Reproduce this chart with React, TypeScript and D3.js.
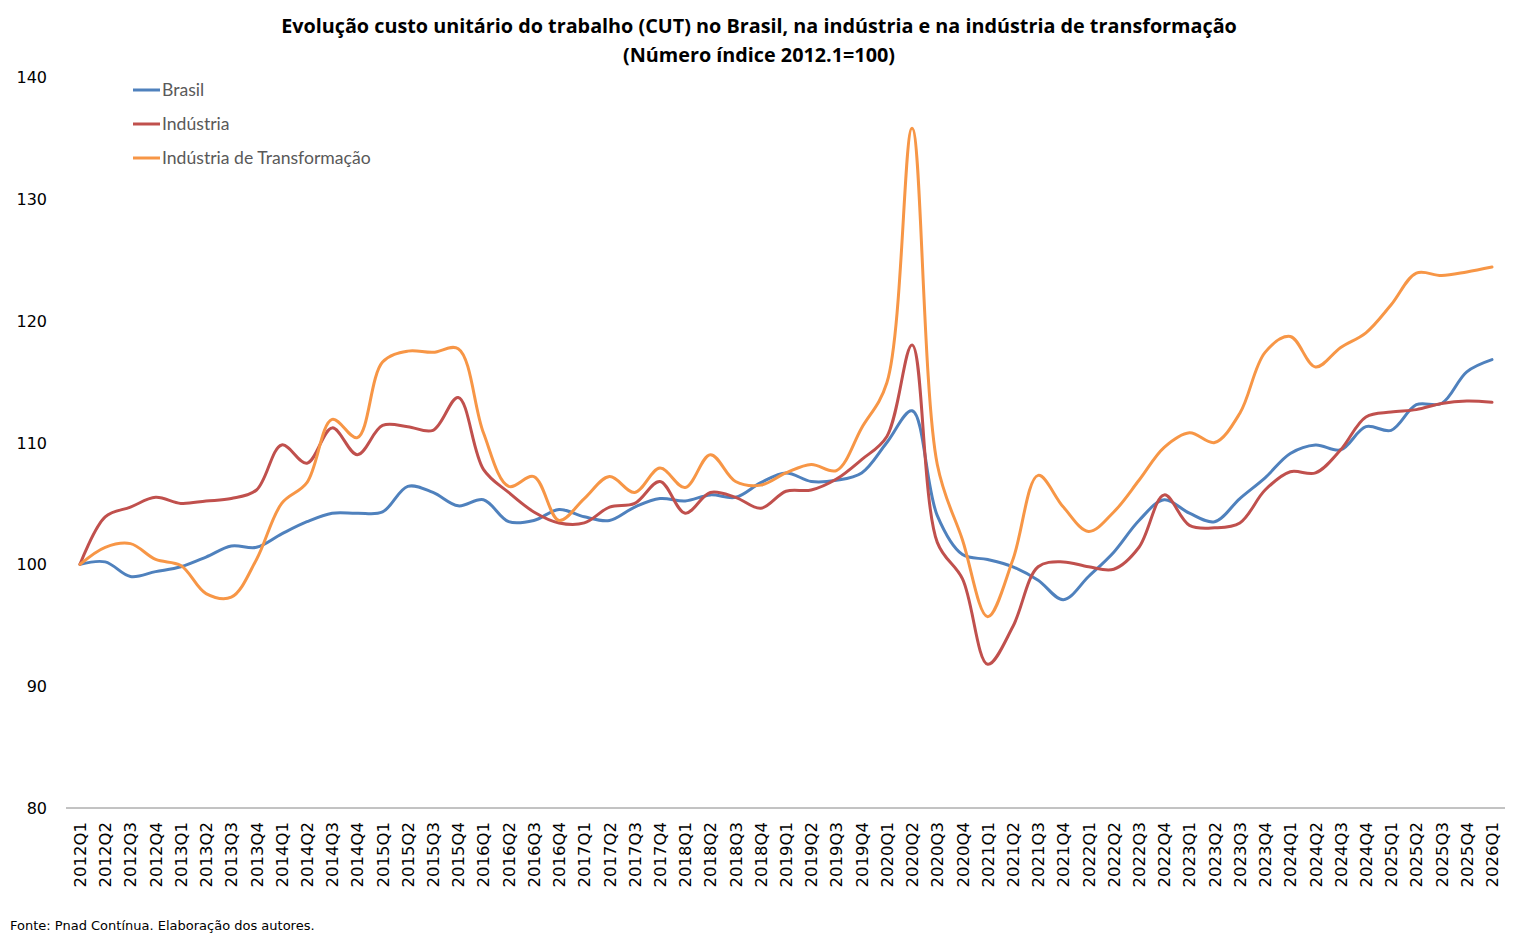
import React from "react";
import * as d3 from "d3";

// dimensões da imagem
const WIDTH = 1519;
const HEIGHT = 947;

const years = d3.range(2012, 2026);
const quarters: string[] = years
  .flatMap((y) => [1, 2, 3, 4].map((q) => `${y}Q${q}`))
  .concat(["2026Q1"]);

const yTicks = [80, 90, 100, 110, 120, 130, 140];

const brasil = [
  100, 100.2, 99.0, 99.4, 99.8, 100.6, 101.5, 101.4, 102.5, 103.5, 104.2, 104.2,
  104.3, 106.4, 105.9, 104.8, 105.3, 103.5, 103.6, 104.5, 103.9, 103.6, 104.7,
  105.4, 105.2, 105.7, 105.5, 106.7, 107.5, 106.8, 106.9, 107.5, 110.0, 112.6,
  104.0, 100.8, 100.4, 99.8, 98.7, 97.1, 99.0, 101.0, 103.6, 105.3, 104.2, 103.5,
  105.4, 107.1, 109.1, 109.8, 109.4, 111.3, 111.0, 113.1, 113.2, 115.8, 116.8,
];

const industria = [
  100, 103.9, 104.7, 105.5, 105.0, 105.2, 105.4, 106.1, 109.8, 108.3, 111.2,
  109.0, 111.4, 111.3, 111.0, 113.7, 107.8, 105.9, 104.3, 103.4, 103.4, 104.7,
  105.0, 106.8, 104.2, 105.9, 105.5, 104.6, 106.0, 106.1, 107.0, 108.6, 110.5,
  118.0, 101.8, 98.8, 91.8, 94.9, 99.8, 100.2, 99.8, 99.6, 101.4, 105.7, 103.2,
  103.0, 103.4, 106.1, 107.6, 107.5, 109.4, 112.1, 112.5, 112.7, 113.2, 113.4,
  113.3,
];

const transformacao = [
  100, 101.4, 101.7, 100.4, 99.9, 97.6, 97.3, 100.4, 105.0, 106.7, 111.9, 110.4,
  116.6, 117.5, 117.4, 117.7, 110.8, 106.4, 107.2, 103.6, 105.4, 107.2, 105.9,
  107.9, 106.3, 109.0, 106.8, 106.5, 107.5, 108.2, 107.7, 111.2, 114.9, 135.8,
  108.2, 102.0, 95.7, 100.4, 107.3, 104.7, 102.7, 104.3, 106.9, 109.6, 110.8,
  110.0, 112.4, 117.4, 118.7, 116.2, 117.8, 119.0, 121.3, 123.9, 123.7, 124.0,
  124.4,
];

const seriesNames = ["Brasil", "Indústria", "Indústria de Transformação"];
const seriesColors = ["#4F81BD", "#C0504D", "#F79646"];

const App: React.FC = () => {
  const x = d3.scalePoint<string>().domain(quarters).range([80, 1492]);
  const y = d3.scaleLinear().domain([80, 140]).range([808, 77]);

  const line = d3
    .line<number>()
    .x((_, i) => x(quarters[i]) as number)
    .y((d) => y(d))
    .curve(d3.curveCatmullRom.alpha(0.5));

  const allSeries = [brasil, industria, transformacao];

  return (
    <div style={{ position: "absolute", left: 0, top: 0 }}>
      <svg width={WIDTH} height={HEIGHT} style={{ background: "#fff", display: "block" }}>
        {/* título */}
        <text
          x={759}
          y={33}
          textAnchor="middle"
          fontFamily="'Open Sans', Lato, sans-serif"
          fontWeight="bold"
          fontSize={19.8}
          fill="#000"
        >
          Evolução custo unitário do trabalho (CUT) no Brasil, na indústria e na indústria de transformação
        </text>
        <text
          x={759}
          y={62}
          textAnchor="middle"
          fontFamily="'Open Sans', Lato, sans-serif"
          fontWeight="bold"
          fontSize={19.8}
          fill="#000"
        >
          (Número índice 2012.1=100)
        </text>

        {/* eixo y */}
        {yTicks.map((t) => (
          <text
            key={t}
            x={47}
            y={y(t) + 6}
            textAnchor="end"
            fontFamily="'DejaVu Sans', Verdana, sans-serif"
            fontSize={16}
            fill="#000"
          >
            {t}
          </text>
        ))}

        {/* eixo x */}
        <line x1={66} x2={1505} y1={y(80)} y2={y(80)} stroke="#868686" strokeWidth={1} />
        {quarters.map((q) => (
          <text
            key={q}
            transform={`translate(${(x(q) as number) + 6},822) rotate(-90)`}
            textAnchor="end"
            fontFamily="'DejaVu Sans', Verdana, sans-serif"
            fontSize={16.5}
            fill="#000"
          >
            {q}
          </text>
        ))}

        {/* linhas */}
        {allSeries.map((s, k) => (
          <path
            key={seriesNames[k]}
            d={line(s) || ""}
            fill="none"
            stroke={seriesColors[k]}
            strokeWidth={3}
            strokeLinejoin="round"
            strokeLinecap="round"
          />
        ))}

        {/* legenda */}
        {seriesNames.map((name, k) => (
          <g key={name} transform={`translate(133,${90 + k * 34})`}>
            <line x1={0} x2={27} y1={0} y2={0} stroke={seriesColors[k]} strokeWidth={3} />
            <text
              x={29}
              y={6}
              fontFamily="Lato, 'Open Sans', sans-serif"
              fontSize={17.6}
              fill="#595959"
            >
              {name}
            </text>
          </g>
        ))}

        {/* fonte */}
        <text
          x={10}
          y={930}
          fontFamily="'DejaVu Sans', Verdana, sans-serif"
          fontSize={13}
          fill="#000"
        >
          Fonte: Pnad Contínua. Elaboração dos autores.
        </text>
      </svg>
    </div>
  );
};

export default App;
